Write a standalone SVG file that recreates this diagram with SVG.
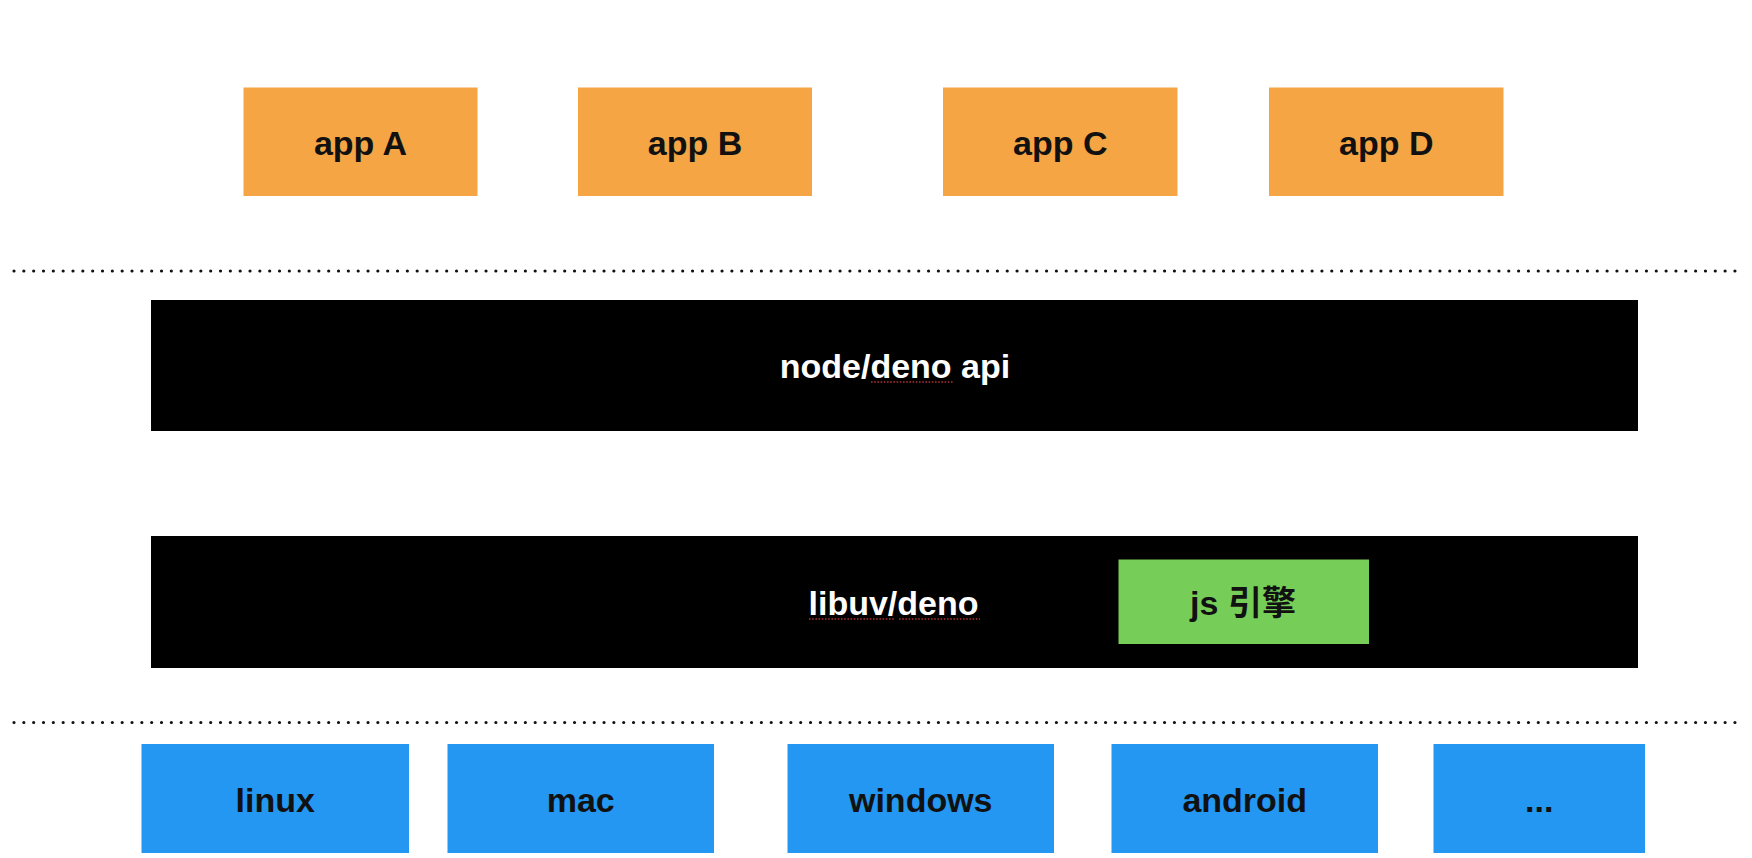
<svg xmlns="http://www.w3.org/2000/svg" width="1752" height="858" viewBox="0 0 1752 858">
<style>
.lbl{font-family:"Liberation Sans","Noto Sans CJK SC",Arial,sans-serif;font-weight:bold;font-size:34px;text-anchor:middle}
.dark{fill:#111111}
.light{fill:#ffffff}
.app{fill:#F5A544}
.os{fill:#2397F2}
.layer{fill:#000000}
.eng{fill:#76CD57}
.sep{stroke:#111111;stroke-width:3.2;stroke-linecap:round;stroke-dasharray:0 9.834;fill:none}
.spell{stroke:#D0393B;stroke-width:1.6;stroke-dasharray:1.6 1.6;fill:none;opacity:0.85}
</style>
<rect width="1752" height="858" fill="#ffffff"/>
<g id="separators">
<line class="sep" x1="14" y1="271" x2="1735" y2="271"/>
<line class="sep" x1="14" y1="722.5" x2="1735" y2="722.5"/>
</g>
<g id="appA"><rect class="app" x="243.5" y="87.5" width="234" height="108.5"/><text class="lbl dark" x="360.5" y="155">app A</text></g>
<g id="appB"><rect class="app" x="578" y="87.5" width="234" height="108.5"/><text class="lbl dark" x="695" y="155">app B</text></g>
<g id="appC"><rect class="app" x="943" y="87.5" width="234.5" height="108.5"/><text class="lbl dark" x="1060.25" y="155">app C</text></g>
<g id="appD"><rect class="app" x="1269" y="87.5" width="234.5" height="108.5"/><text class="lbl dark" x="1386.25" y="155">app D</text></g>
<g id="api">
<rect class="layer" x="151" y="300" width="1487" height="131"/>
<text class="lbl light" x="895" y="377.5">node/deno api</text>
<line class="spell" x1="871" y1="382" x2="953" y2="382"/>
</g>
<g id="libuv">
<rect class="layer" x="151" y="536" width="1487" height="132"/>
<text class="lbl light" x="893.5" y="614.5">libuv/deno</text>
<line class="spell" x1="809" y1="619" x2="894" y2="619"/>
<line class="spell" x1="899" y1="619" x2="980" y2="619"/>
</g>
<g id="jsengine">
<rect class="eng" x="1118.5" y="559.5" width="250.5" height="84.5"/>
<text class="lbl dark" x="1243" y="615">js 引擎</text>
</g>
<g id="linux"><rect class="os" x="141.5" y="744" width="267.5" height="109"/><text class="lbl dark" x="275.25" y="811.5">linux</text></g>
<g id="mac"><rect class="os" x="447.5" y="744" width="266.5" height="109"/><text class="lbl dark" x="580.75" y="811.5">mac</text></g>
<g id="windows"><rect class="os" x="787.5" y="744" width="266.5" height="109"/><text class="lbl dark" x="920.75" y="811.5">windows</text></g>
<g id="android"><rect class="os" x="1111.5" y="744" width="266.5" height="109"/><text class="lbl dark" x="1244.75" y="811.5">android</text></g>
<g id="more"><rect class="os" x="1433.5" y="744" width="211.5" height="109"/><text class="lbl dark" x="1539.25" y="811.5">...</text></g>
</svg>
